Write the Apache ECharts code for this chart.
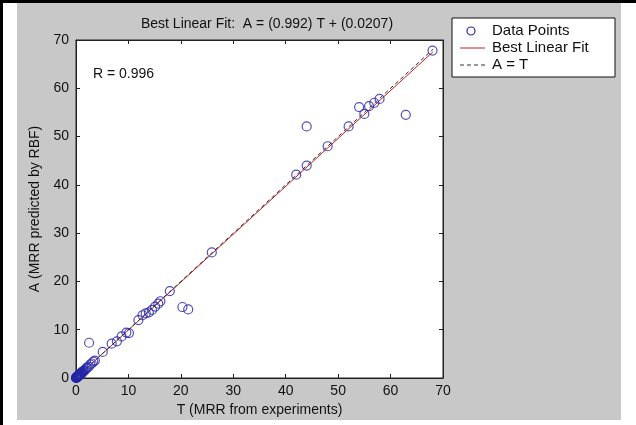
<!DOCTYPE html>
<html lang="en">
<head>
    <meta charset="UTF-8">
    <title>Best Linear Fit</title>
    <script src="https://cdn.jsdelivr.net/npm/echarts@6.0.0/dist/echarts.min.js"></script>
    <style>
        html, body { margin: 0; padding: 0; background: #fff; }
        #main { width: 636px; height: 425px; }
    </style>
</head>
<body>
    <div id="main"></div>
</body>
</html>
<script type="text/javascript">
    // 数据点 (T = 实验值, A = RBF 预测值)
    var tValues = [0.0, 0.02, 0.05, 0.08, 0.1, 0.12, 0.15, 0.18, 0.2, 0.22, 0.25, 0.3, 0.32, 0.35, 0.4, 0.42, 0.45, 0.5, 0.55, 0.6, 0.65, 0.7, 0.75, 0.8, 0.9, 1.0, 1.05, 1.1, 1.2, 1.3, 1.4, 1.5, 1.7, 1.9, 2.1, 2.4, 2.7, 3.0, 3.3, 3.6,
        2.5, 5.1, 6.8, 7.8, 8.7, 9.6, 10.1, 11.9, 12.7, 13.3, 13.9, 14.5, 15.1, 15.7, 16.1, 17.9, 20.3, 21.4, 25.9,
        42.0, 44.0, 44.0, 48.0, 52.0, 54.0, 55.0, 55.9, 56.9, 57.9, 62.9, 68.0];
    var aValues = [0.05, 0.0, 0.1, 0.12, 0.05, 0.2, 0.2, 0.1, 0.15, 0.3, 0.3, 0.25, 0.35, 0.4, 0.35, 0.5, 0.5, 0.45, 0.5, 0.65, 0.6, 0.7, 0.8, 0.75, 0.95, 1.0, 0.9, 1.2, 1.1, 1.3, 1.45, 1.5, 1.6, 2.0, 2.1, 2.3, 2.8, 3.0, 3.4, 3.6,
        7.3, 5.4, 7.1, 7.6, 8.6, 9.4, 9.3, 12.0, 13.0, 13.4, 13.6, 14.1, 14.8, 15.4, 15.9, 18.0, 14.7, 14.2, 26.0,
        42.1, 44.0, 52.1, 48.0, 52.1, 56.1, 54.7, 56.3, 57.0, 57.8, 54.5, 67.8];
    // 拟合线和 A = T 线的端点
    var fitT = [0, 68.1];
    var fitA = [0.02, 67.57];
    var idT = [0, 68.1];
    var idA = [0, 68.1];
    var tickValues = [0, 10, 20, 30, 40, 50, 60, 70];
    var legendNames = ['Data Points', 'Best Linear Fit', 'A = T'];

    var pts = [];
    for (var i = 0; i < tValues.length; i++) {
        pts.push([tValues[i], aValues[i]]);
    }
    var fitLine = [], idLine = [];
    for (var j = 0; j < fitT.length; j++) {
        fitLine.push([fitT[j], fitA[j]]);
        idLine.push([idT[j], idA[j]]);
    }

    var font = 'Liberation Sans, Arial, sans-serif';
    var dotColor = '#2626a8', fitColor = '#c02020', idColor = '#333';
    var myChart = echarts.init(document.getElementById('main'));

    // 图例: 手工画 (方框 + 图标 + 文字)
    var legendGraphic = [
        { type: 'rect', shape: { x: 452, y: 18, width: 163, height: 59 }, style: { fill: '#fff', stroke: '#111', lineWidth: 1 }, z: 1 },
        { type: 'circle', shape: { cx: 471, cy: 31, r: 4 }, style: { fill: 'none', stroke: dotColor, lineWidth: 1.2 }, z: 2 },
        { type: 'line', shape: { x1: 460, y1: 48, x2: 485, y2: 48 }, style: { stroke: fitColor, lineWidth: 1 }, z: 2 },
        { type: 'line', shape: { x1: 460, y1: 65, x2: 485, y2: 65 }, style: { stroke: idColor, lineWidth: 1, lineDash: [4, 3] }, z: 2 }
    ];
    for (var k = 0; k < legendNames.length; k++) {
        legendGraphic.push({ type: 'text', x: 492, y: 31 + k * 17,
            style: { text: legendNames[k], font: '15px ' + font, fill: '#111', verticalAlign: 'middle' }, z: 2 });
    }

    var axisCommon = {
        min: 0, max: 70, interval: 10,
        axisLine: { show: true, onZero: false, lineStyle: { color: '#222', width: 1 } },
        axisTick: { show: true, inside: true, length: 4, lineStyle: { color: '#222' } },
        splitLine: { show: false }
    };

    var option = {
        backgroundColor: '#fff',
        animation: false,
        graphic: [
            { type: 'rect', shape: { x: 17, y: 3, width: 604, height: 417 }, style: { fill: '#c8c8c8' }, z: -10 },
            { type: 'rect', shape: { x: 0, y: 0, width: 636, height: 3 }, style: { fill: '#000' }, z: -9 },
            { type: 'rect', shape: { x: 0, y: 0, width: 3, height: 425 }, style: { fill: '#000' }, z: -9 },
            { type: 'text', x: 93, y: 74, style: { text: 'R = 0.996', font: '14px ' + font, fill: '#111', verticalAlign: 'middle' }, z: 10 }
        ].concat(legendGraphic),
        title: {
            text: 'Best Linear Fit:  A = (0.992) T + (0.0207)',
            left: 262, top: 12, textAlign: 'center',
            textStyle: { fontFamily: font, fontSize: 14, fontWeight: 'normal', color: '#111' }
        },
        grid: {
            left: 76, right: 193, top: 40, bottom: 47,
            show: true, backgroundColor: '#fff', borderColor: '#222', borderWidth: 1
        },
        xAxis: [
            Object.assign({}, axisCommon, {
                type: 'value', position: 'bottom',
                name: 'T (MRR from experiments)', nameLocation: 'middle', nameGap: 23,
                nameTextStyle: { fontFamily: font, fontSize: 14, color: '#111' },
                axisLabel: { fontFamily: font, fontSize: 14, color: '#111', margin: 6,
                    customValues: tickValues }
            }),
            Object.assign({}, axisCommon, { type: 'value', position: 'top', axisLabel: { show: false } })
        ],
        yAxis: [
            Object.assign({}, axisCommon, {
                type: 'value', position: 'left',
                name: 'A (MRR predicted by RBF)', nameLocation: 'middle', nameGap: 30,
                nameTextStyle: { fontFamily: font, fontSize: 14, color: '#111' },
                axisLabel: { fontFamily: font, fontSize: 14, color: '#111', margin: 7 }
            }),
            Object.assign({}, axisCommon, { type: 'value', position: 'right', axisLabel: { show: false } })
        ],
        series: [
            {
                name: 'Data Points', type: 'scatter', data: pts,
                symbol: 'circle', symbolSize: 9, z: 4,
                itemStyle: { color: 'rgba(0,0,0,0)', borderColor: dotColor, borderWidth: 1.2 }
            },
            {
                name: 'Best Linear Fit', type: 'line', data: fitLine,
                symbol: 'none', z: 3,
                lineStyle: { color: fitColor, width: 1 }
            },
            {
                name: 'A = T', type: 'line', data: idLine,
                symbol: 'none', z: 3,
                lineStyle: { color: idColor, width: 1, type: [4, 3] }
            }
        ]
    };
    myChart.setOption(option);
</script>
